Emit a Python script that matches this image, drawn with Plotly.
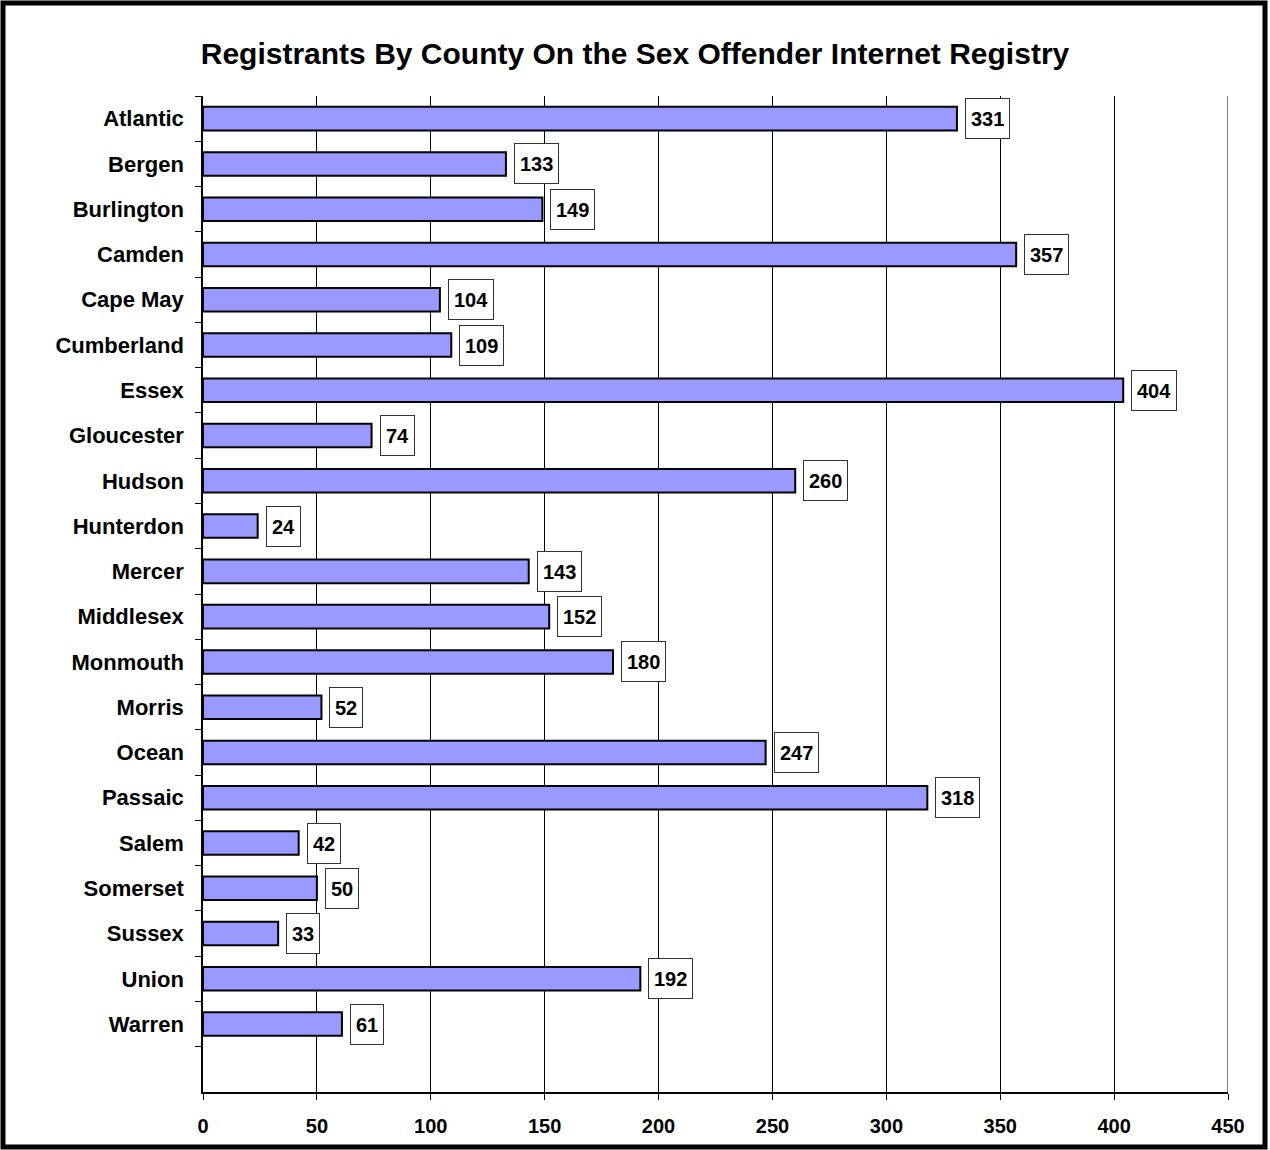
import plotly.graph_objects as go

# Registrants per county
counties = ["Atlantic", "Bergen", "Burlington", "Camden", "Cape May", "Cumberland",
            "Essex", "Gloucester", "Hudson", "Hunterdon", "Mercer", "Middlesex",
            "Monmouth", "Morris", "Ocean", "Passaic", "Salem", "Somerset",
            "Sussex", "Union", "Warren"]
registrants = [331, 133, 149, 357, 104, 109, 404, 74, 260, 24, 143, 152,
               180, 52, 247, 318, 42, 50, 33, 192, 61]
x_ticks = [0, 50, 100, 150, 200, 250, 300, 350, 400, 450]

title_text = "Registrants By County On the Sex Offender Internet Registry"

FONT = "Liberation Sans, Arial, sans-serif"

# one empty slot below the last county
category_slots = counties + [" "]

fig = go.Figure()
fig.add_trace(go.Bar(
    x=registrants,
    y=counties,
    orientation="h",
    marker=dict(color="#9999FF", line=dict(color="black", width=2)),
    width=0.52,
    hoverinfo="x+y",
))

# boxed value labels to the right of each bar
for name, val in zip(counties, registrants):
    fig.add_annotation(
        x=val, y=name, xref="x", yref="y",
        text=str(val), showarrow=False,
        xanchor="left", yanchor="middle", xshift=8,
        font=dict(family=FONT, size=20, color="black", weight="bold"),
        bgcolor="white", bordercolor="#333333", borderwidth=1, borderpad=5,
        height=29,
    )

fig.update_layout(
    width=1270, height=1150,
    margin=dict(l=203, r=42, t=96, b=58),
    paper_bgcolor="white", plot_bgcolor="white",
    showlegend=False,
    title=dict(
        text=title_text, x=0.5, xref="container", xanchor="center",
        y=1 - 53 / 1150, yanchor="middle",
        font=dict(family=FONT, size=30, color="black", weight="bold"),
    ),
    xaxis=dict(
        range=[0, 450], tickvals=x_ticks,
        showgrid=True, gridcolor="black", gridwidth=1,
        showline=True, linecolor="black", linewidth=1.5,
        ticks="outside", ticklen=6, tickcolor="black",
        zeroline=False, ticklabelstandoff=9,
        tickfont=dict(family=FONT, size=20, color="black", weight="bold"),
    ),
    yaxis=dict(
        type="category", categoryorder="array", categoryarray=category_slots,
        range=[len(category_slots) - 0.5, -0.5],
        tickson="boundaries", ticks="outside", ticklen=6, tickcolor="black",
        showline=True, linecolor="black", linewidth=1.5,
        showgrid=False, ticklabelstandoff=13,
        tickfont=dict(family=FONT, size=22, color="black", weight="bold"),
    ),
    bargap=0.48,
)

# gridline at the far end of the value axis
fig.add_shape(
    type="line", xref="x", yref="paper",
    x0=x_ticks[-1], x1=x_ticks[-1], y0=0, y1=1,
    line=dict(color="black", width=1),
)

# heavy frame around the whole chart
fig.add_shape(
    type="rect", xref="paper", yref="paper",
    x0=(3 - 203) / 1025, x1=(1265 - 203) / 1025,
    y0=(1092 - 1147) / 996, y1=(1092 - 3) / 996,
    line=dict(color="black", width=5), fillcolor="rgba(0,0,0,0)",
    layer="above",
)

fig.write_html("out.html")
